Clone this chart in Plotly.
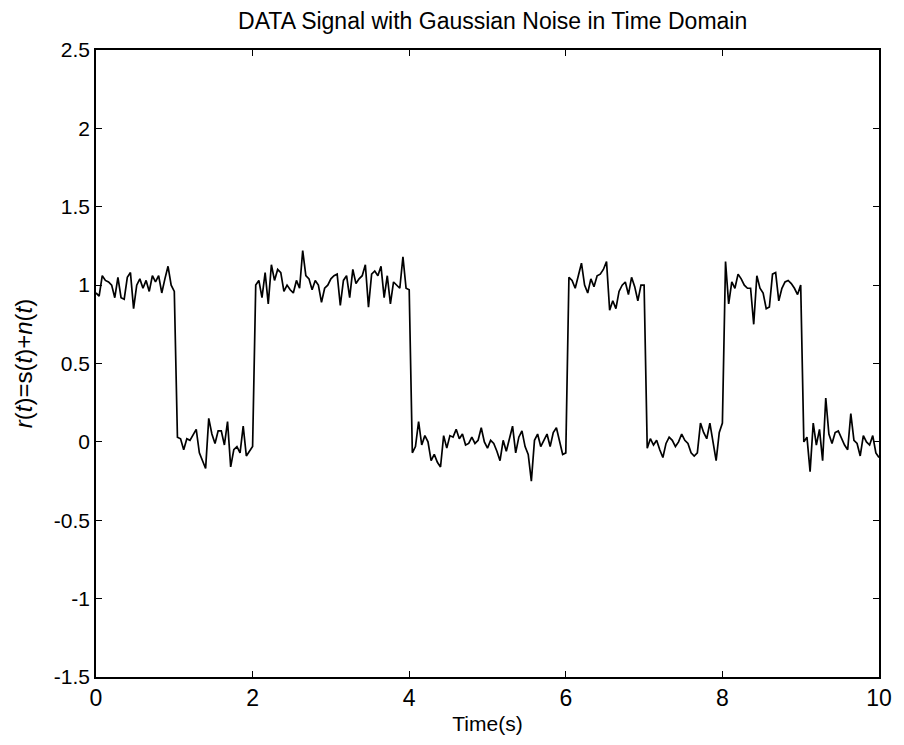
import numpy as np
import plotly.graph_objects as go

# sample times (0.04 s step, 0..10 s)
time_s = np.round(np.arange(0, 10.0001, 0.04), 2)

# received signal r(t), one list per second
r_0 = [0.95, 0.93, 1.06, 1.03, 1.02, 1.00, 0.92, 1.05, 0.92, 0.91, 1.05, 1.08, 0.85,
       1.00, 1.04, 0.98, 1.03, 0.96, 1.06, 1.02, 1.06, 0.95, 1.04, 1.12, 1.00]
r_1 = [0.96, 0.03, 0.02, -0.05, 0.02, 0.01, 0.05, 0.08, -0.07, -0.12, -0.17, 0.15, 0.05,
       -0.01, 0.07, 0.07, -0.02, 0.13, -0.16, -0.05, -0.03, -0.07, 0.10, -0.09, -0.06]
r_2 = [-0.03, 1.00, 1.03, 0.92, 1.08, 0.88, 1.13, 1.03, 1.10, 1.08, 0.96, 1.00, 0.97,
       0.95, 1.03, 0.98, 1.22, 1.06, 1.04, 0.97, 1.03, 1.00, 0.89, 0.98, 1.00]
r_3 = [1.04, 1.06, 1.07, 0.87, 1.03, 1.06, 0.92, 1.10, 1.01, 1.04, 1.06, 1.13, 0.86,
       1.07, 1.09, 1.06, 1.12, 0.92, 1.06, 0.88, 1.02, 1.00, 0.98, 1.18, 0.98]
r_4 = [0.97, -0.07, -0.03, 0.13, -0.02, 0.04, 0.00, -0.12, -0.08, -0.13, -0.16, 0.04, -0.04,
       0.04, 0.03, 0.08, 0.02, 0.05, -0.02, -0.01, 0.03, -0.01, 0.01, 0.09, 0.00]
r_5 = [-0.04, 0.01, -0.01, -0.06, -0.12, 0.01, -0.06, 0.02, 0.10, -0.07, 0.03, 0.07, -0.03,
       -0.08, -0.25, 0.01, 0.05, -0.03, 0.01, 0.05, -0.03, 0.06, 0.09, 0.00, -0.08]
r_6 = [-0.07, 1.05, 1.03, 0.98, 1.06, 1.14, 1.00, 0.95, 1.04, 0.99, 1.06, 1.07, 1.10,
       1.15, 0.84, 0.90, 0.85, 0.96, 1.00, 1.02, 0.94, 1.05, 0.99, 0.90, 1.00]
r_7 = [1.00, -0.04, 0.02, -0.02, 0.01, -0.05, -0.10, -0.01, 0.03, 0.01, -0.03, 0.00, 0.05,
       0.01, -0.01, -0.07, -0.09, -0.07, 0.12, 0.06, 0.02, 0.12, -0.01, -0.12, 0.06]
r_8 = [0.12, 1.15, 0.88, 1.02, 0.98, 1.07, 1.04, 1.00, 0.98, 0.98, 0.75, 1.06, 0.98,
       0.95, 0.85, 0.86, 1.07, 1.08, 0.90, 0.98, 1.02, 1.03, 1.01, 0.98, 0.94]
r_9 = [1.00, 0.00, 0.03, -0.19, 0.12, -0.02, 0.08, -0.12, 0.28, 0.05, -0.01, 0.06, 0.07,
       0.02, -0.02, -0.05, 0.18, 0.01, -0.01, -0.09, 0.04, 0.00, -0.02, 0.04, -0.07, -0.10]

r_t = r_0 + r_1 + r_2 + r_3 + r_4 + r_5 + r_6 + r_7 + r_8 + r_9

x_ticks = [0, 2, 4, 6, 8, 10]
y_ticks = [-1.5, -1, -0.5, 0, 0.5, 1, 1.5, 2, 2.5]
y_tick_text = ["-1.5", "-1", "-0.5", "0", "0.5", "1", "1.5", "2", "2.5"]

FONT = "Liberation Sans, Arial, sans-serif"

fig = go.Figure()
fig.add_trace(go.Scatter(x=time_s, y=r_t, mode="lines",
                         line=dict(color="black", width=1.7), showlegend=False))

fig.update_layout(
    width=904, height=745,
    margin=dict(l=96, r=15, t=50, b=68),
    paper_bgcolor="white", plot_bgcolor="white",
    font=dict(family=FONT, color="black"),
    title=dict(text="DATA Signal with Gaussian Noise in Time Domain",
               x=0.545, xanchor="center", y=0.972, yanchor="middle",
               font=dict(size=23, family=FONT, color="black")),
)
fig.update_xaxes(
    range=[0, 10], tickvals=x_ticks, ticktext=[str(v) for v in x_ticks],
    ticks="inside", ticklen=6, tickwidth=1, tickcolor="black",
    showline=True, linecolor="black", linewidth=1.5, mirror="ticks",
    showgrid=False, zeroline=False,
    tickfont=dict(size=23, family=FONT, color="black"),
    title=dict(text="Time(s)", font=dict(size=21, family=FONT, color="black"), standoff=6),
)
fig.update_yaxes(
    range=[-1.5, 2.5], tickvals=y_ticks, ticktext=y_tick_text,
    ticks="inside", ticklen=6, tickwidth=1, tickcolor="black",
    showline=True, linecolor="black", linewidth=1.5, mirror="ticks",
    showgrid=False, zeroline=False,
    tickfont=dict(size=21, family=FONT, color="black"),
    title=dict(text="<i>r</i>(<i>t</i>)=s(<i>t</i>)+<i>n</i>(<i>t</i>)",
               font=dict(size=24, family=FONT, color="black"), standoff=14),
)

fig.write_html("out.html")
